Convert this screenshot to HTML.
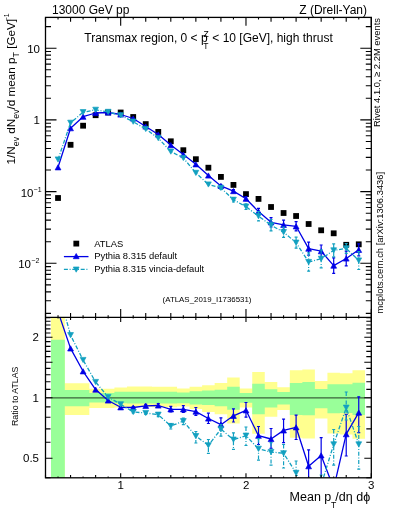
<!DOCTYPE html>
<html><head><meta charset="utf-8"><style>
html,body{margin:0;padding:0;background:#fff;}
svg{display:block;will-change:transform;}
text{font-family:"Liberation Sans",sans-serif;fill:#000;}
</style></head><body>
<svg width="393" height="512" viewBox="0 0 393 512">
<rect width="393" height="512" fill="#fff"/>
<defs><clipPath id="cm"><rect x="45.5" y="17.4" width="325.8" height="300"/></clipPath>
<clipPath id="cr"><rect x="45.5" y="317.4" width="325.8" height="160.4"/></clipPath></defs>
<g clip-path="url(#cr)">
<path d="M51 300L64.8 300L64.8 383.2L89.35 383.2L89.35 388.8L114.41 388.8L114.41 387.5L126.95 387.5L126.95 386.5L152 386.5L152 386.8L177.06 386.8L177.06 388.6L189.59 388.6L189.59 386.8L202.12 386.8L202.12 385.2L214.66 385.2L214.66 382.9L227.19 382.9L227.19 377.6L239.71 377.6L239.71 388.6L252.24 388.6L252.24 371.9L264.77 371.9L264.77 382.1L277.31 382.1L277.31 387.2L289.84 387.2L289.84 370.2L302.37 370.2L302.37 369.6L314.89 369.6L314.89 381.1L327.43 381.1L327.43 372.7L339.95 372.7L339.95 373.3L352.49 373.3L352.49 370.2L365.02 370.2L365.02 438.8L352.49 438.8L352.49 434.5L339.95 434.5L339.95 433.5L327.43 433.5L327.43 418.5L314.89 418.5L314.89 438.5L302.37 438.5L302.37 437.7L289.84 437.7L289.84 410L277.31 410L277.31 416.8L264.77 416.8L264.77 433.8L252.24 433.8L252.24 407.4L239.71 407.4L239.71 423.4L227.19 423.4L227.19 414.2L214.66 414.2L214.66 412L202.12 412L202.12 409L189.59 409L189.59 406.5L177.06 406.5L177.06 407.2L152 407.2L152 407L126.95 407L126.95 407.5L114.41 407.5L114.41 408L89.35 408L89.35 414.9L64.8 414.9L64.8 500L51 500Z" fill="#ffff8f"/>
<path d="M51 339.8L64.8 339.8L64.8 390L89.35 390L89.35 393L114.41 393L114.41 391.8L126.95 391.8L126.95 391.8L152 391.8L152 391.8L177.06 391.8L177.06 392.5L189.59 392.5L189.59 391.3L202.12 391.3L202.12 390.6L214.66 390.6L214.66 389.7L227.19 389.7L227.19 386.8L239.71 386.8L239.71 392.9L252.24 392.9L252.24 383.8L264.77 383.8L264.77 389.2L277.31 389.2L277.31 392L289.84 392L289.84 383L302.37 383L302.37 382.1L314.89 382.1L314.89 389L327.43 389L327.43 384.3L339.95 384.3L339.95 384.3L352.49 384.3L352.49 382.7L365.02 382.7L365.02 415L352.49 415L352.49 413L339.95 413L339.95 413.3L327.43 413.3L327.43 408.2L314.89 408.2L314.89 415.3L302.37 415.3L302.37 415L289.84 415L289.84 404.5L277.31 404.5L277.31 407.5L264.77 407.5L264.77 414.2L252.24 414.2L252.24 402.8L239.71 402.8L239.71 409.7L227.19 409.7L227.19 406.2L214.66 406.2L214.66 405L202.12 405L202.12 404.4L189.59 404.4L189.59 403.3L177.06 403.3L177.06 403.5L152 403.5L152 403.5L126.95 403.5L126.95 403.2L114.41 403.2L114.41 402.5L89.35 402.5L89.35 406.2L64.8 406.2L64.8 500L51 500Z" fill="#99ff99"/>
<line x1="45.5" y1="397.8" x2="371.3" y2="397.8" stroke="#000" stroke-opacity="0.62" stroke-width="1.3"/>
</g>
<g clip-path="url(#cm)">
<rect x="55.13" y="195.1" width="5.8" height="5.8" fill="#000"/>
<rect x="67.66" y="141.9" width="5.8" height="5.8" fill="#000"/>
<rect x="80.19" y="122.8" width="5.8" height="5.8" fill="#000"/>
<rect x="92.72" y="112.3" width="5.8" height="5.8" fill="#000"/>
<rect x="105.25" y="109.6" width="5.8" height="5.8" fill="#000"/>
<rect x="117.78" y="109.6" width="5.8" height="5.8" fill="#000"/>
<rect x="130.31" y="114.1" width="5.8" height="5.8" fill="#000"/>
<rect x="142.84" y="121.2" width="5.8" height="5.8" fill="#000"/>
<rect x="155.37" y="129" width="5.8" height="5.8" fill="#000"/>
<rect x="167.9" y="138.4" width="5.8" height="5.8" fill="#000"/>
<rect x="180.43" y="147.3" width="5.8" height="5.8" fill="#000"/>
<rect x="192.96" y="156.3" width="5.8" height="5.8" fill="#000"/>
<rect x="205.49" y="164.8" width="5.8" height="5.8" fill="#000"/>
<rect x="218.02" y="174" width="5.8" height="5.8" fill="#000"/>
<rect x="230.55" y="182" width="5.8" height="5.8" fill="#000"/>
<rect x="243.08" y="191.2" width="5.8" height="5.8" fill="#000"/>
<rect x="255.61" y="196" width="5.8" height="5.8" fill="#000"/>
<rect x="268.14" y="204.1" width="5.8" height="5.8" fill="#000"/>
<rect x="280.67" y="210.1" width="5.8" height="5.8" fill="#000"/>
<rect x="293.2" y="213.1" width="5.8" height="5.8" fill="#000"/>
<rect x="305.73" y="221.1" width="5.8" height="5.8" fill="#000"/>
<rect x="318.26" y="227.4" width="5.8" height="5.8" fill="#000"/>
<rect x="330.79" y="230.4" width="5.8" height="5.8" fill="#000"/>
<rect x="343.32" y="241.9" width="5.8" height="5.8" fill="#000"/>
<rect x="355.85" y="241.4" width="5.8" height="5.8" fill="#000"/>
<polyline points="58.03,167.3 70.56,128.2 83.09,116.7 95.62,113 108.15,112.5 120.68,114.5 133.21,118.5 145.74,126.5 158.27,134.5 170.8,145.1 183.33,154.6 195.86,164.3 208.39,175.5 220.92,185.9 233.45,191.1 245.98,198.7 258.51,211.6 271.04,222.3 283.57,224.8 296.1,226.3 308.63,248.6 321.16,251.2 333.69,265.6 346.22,258.5 358.75,249.8" fill="none" stroke="#0000e6" stroke-width="1.3" stroke-linejoin="round"/>
<path d="M58.03 164.7L60.93 169.9L55.13 169.9Z" fill="#0000e6" stroke="#0000e6" stroke-width="0.7" stroke-linejoin="round"/>
<path d="M70.56 125.6L73.46 130.8L67.66 130.8Z" fill="#0000e6" stroke="#0000e6" stroke-width="0.7" stroke-linejoin="round"/>
<path d="M83.09 114.1L85.99 119.3L80.19 119.3Z" fill="#0000e6" stroke="#0000e6" stroke-width="0.7" stroke-linejoin="round"/>
<path d="M95.62 110.4L98.52 115.6L92.72 115.6Z" fill="#0000e6" stroke="#0000e6" stroke-width="0.7" stroke-linejoin="round"/>
<path d="M108.15 109.9L111.05 115.1L105.25 115.1Z" fill="#0000e6" stroke="#0000e6" stroke-width="0.7" stroke-linejoin="round"/>
<path d="M120.68 111.9L123.58 117.1L117.78 117.1Z" fill="#0000e6" stroke="#0000e6" stroke-width="0.7" stroke-linejoin="round"/>
<path d="M133.21 115.9L136.11 121.1L130.31 121.1Z" fill="#0000e6" stroke="#0000e6" stroke-width="0.7" stroke-linejoin="round"/>
<path d="M145.74 123.9L148.64 129.1L142.84 129.1Z" fill="#0000e6" stroke="#0000e6" stroke-width="0.7" stroke-linejoin="round"/>
<path d="M158.27 131.9L161.17 137.1L155.37 137.1Z" fill="#0000e6" stroke="#0000e6" stroke-width="0.7" stroke-linejoin="round"/>
<path d="M170.8 142.5L173.7 147.7L167.9 147.7Z" fill="#0000e6" stroke="#0000e6" stroke-width="0.7" stroke-linejoin="round"/>
<path d="M183.33 152L186.23 157.2L180.43 157.2Z" fill="#0000e6" stroke="#0000e6" stroke-width="0.7" stroke-linejoin="round"/>
<path d="M195.86 161.7L198.76 166.9L192.96 166.9Z" fill="#0000e6" stroke="#0000e6" stroke-width="0.7" stroke-linejoin="round"/>
<path d="M208.39 172.9L211.29 178.1L205.49 178.1Z" fill="#0000e6" stroke="#0000e6" stroke-width="0.7" stroke-linejoin="round"/>
<path d="M220.92 184.9V186.9" stroke="#0000e6" stroke-width="1.2" fill="none"/><path d="M219.42 184.9H222.42M219.42 186.9H222.42" stroke="#0000e6" stroke-width="1.2" fill="none"/>
<path d="M220.92 183.3L223.82 188.5L218.02 188.5Z" fill="#0000e6" stroke="#0000e6" stroke-width="0.7" stroke-linejoin="round"/>
<path d="M233.45 189.6V192.6" stroke="#0000e6" stroke-width="1.2" fill="none"/><path d="M231.95 189.6H234.95M231.95 192.6H234.95" stroke="#0000e6" stroke-width="1.2" fill="none"/>
<path d="M233.45 188.5L236.35 193.7L230.55 193.7Z" fill="#0000e6" stroke="#0000e6" stroke-width="0.7" stroke-linejoin="round"/>
<path d="M245.98 196.7V200.7" stroke="#0000e6" stroke-width="1.2" fill="none"/><path d="M244.48 196.7H247.48M244.48 200.7H247.48" stroke="#0000e6" stroke-width="1.2" fill="none"/>
<path d="M245.98 196.1L248.88 201.3L243.08 201.3Z" fill="#0000e6" stroke="#0000e6" stroke-width="0.7" stroke-linejoin="round"/>
<path d="M258.51 208.3V214.9" stroke="#0000e6" stroke-width="1.2" fill="none"/><path d="M257.01 208.3H260.01M257.01 214.9H260.01" stroke="#0000e6" stroke-width="1.2" fill="none"/>
<path d="M258.51 209L261.41 214.2L255.61 214.2Z" fill="#0000e6" stroke="#0000e6" stroke-width="0.7" stroke-linejoin="round"/>
<path d="M271.04 217.6V227" stroke="#0000e6" stroke-width="1.2" fill="none"/><path d="M269.54 217.6H272.54M269.54 227H272.54" stroke="#0000e6" stroke-width="1.2" fill="none"/>
<path d="M271.04 219.7L273.94 224.9L268.14 224.9Z" fill="#0000e6" stroke="#0000e6" stroke-width="0.7" stroke-linejoin="round"/>
<path d="M283.57 220.2V229.4" stroke="#0000e6" stroke-width="1.2" fill="none"/><path d="M282.07 220.2H285.07M282.07 229.4H285.07" stroke="#0000e6" stroke-width="1.2" fill="none"/>
<path d="M283.57 222.2L286.47 227.4L280.67 227.4Z" fill="#0000e6" stroke="#0000e6" stroke-width="0.7" stroke-linejoin="round"/>
<path d="M296.1 221.7V230.9" stroke="#0000e6" stroke-width="1.2" fill="none"/><path d="M294.6 221.7H297.6M294.6 230.9H297.6" stroke="#0000e6" stroke-width="1.2" fill="none"/>
<path d="M296.1 223.7L299 228.9L293.2 228.9Z" fill="#0000e6" stroke="#0000e6" stroke-width="0.7" stroke-linejoin="round"/>
<path d="M308.63 242.1V255.1" stroke="#0000e6" stroke-width="1.2" fill="none"/><path d="M307.13 242.1H310.13M307.13 255.1H310.13" stroke="#0000e6" stroke-width="1.2" fill="none"/>
<path d="M308.63 246L311.53 251.2L305.73 251.2Z" fill="#0000e6" stroke="#0000e6" stroke-width="0.7" stroke-linejoin="round"/>
<path d="M321.16 245V257.4" stroke="#0000e6" stroke-width="1.2" fill="none"/><path d="M319.66 245H322.66M319.66 257.4H322.66" stroke="#0000e6" stroke-width="1.2" fill="none"/>
<path d="M321.16 248.6L324.06 253.8L318.26 253.8Z" fill="#0000e6" stroke="#0000e6" stroke-width="0.7" stroke-linejoin="round"/>
<path d="M333.69 257.8V273.4" stroke="#0000e6" stroke-width="1.2" fill="none"/><path d="M332.19 257.8H335.19M332.19 273.4H335.19" stroke="#0000e6" stroke-width="1.2" fill="none"/>
<path d="M333.69 263L336.59 268.2L330.79 268.2Z" fill="#0000e6" stroke="#0000e6" stroke-width="0.7" stroke-linejoin="round"/>
<path d="M346.22 251.1V265.9" stroke="#0000e6" stroke-width="1.2" fill="none"/><path d="M344.72 251.1H347.72M344.72 265.9H347.72" stroke="#0000e6" stroke-width="1.2" fill="none"/>
<path d="M346.22 255.9L349.12 261.1L343.32 261.1Z" fill="#0000e6" stroke="#0000e6" stroke-width="0.7" stroke-linejoin="round"/>
<path d="M358.75 243.8V255.8" stroke="#0000e6" stroke-width="1.2" fill="none"/><path d="M357.25 243.8H360.25M357.25 255.8H360.25" stroke="#0000e6" stroke-width="1.2" fill="none"/>
<path d="M358.75 247.2L361.65 252.4L355.85 252.4Z" fill="#0000e6" stroke="#0000e6" stroke-width="0.7" stroke-linejoin="round"/>
<polyline points="58.03,159.5 70.56,122.8 83.09,112.2 95.62,109.8 108.15,111.9 120.68,115.3 133.21,121.7 145.74,129 158.27,138.2 170.8,151.6 183.33,158 195.86,172.9 208.39,184.5 220.92,187.9 233.45,199.8 245.98,206.7 258.51,216.2 271.04,225.2 283.57,232.2 296.1,242.7 308.63,262 321.16,258.8 333.69,250.4 346.22,248.4 358.75,260.5" fill="none" stroke="#12a0c0" stroke-width="1.3" stroke-dasharray="4 1.7 1 1.7"/>
<path d="M55.13 156.9L60.93 156.9L58.03 162.1Z" fill="#12a0c0" stroke="#12a0c0" stroke-width="0.7" stroke-linejoin="round"/>
<path d="M67.66 120.2L73.46 120.2L70.56 125.4Z" fill="#12a0c0" stroke="#12a0c0" stroke-width="0.7" stroke-linejoin="round"/>
<path d="M80.19 109.6L85.99 109.6L83.09 114.8Z" fill="#12a0c0" stroke="#12a0c0" stroke-width="0.7" stroke-linejoin="round"/>
<path d="M92.72 107.2L98.52 107.2L95.62 112.4Z" fill="#12a0c0" stroke="#12a0c0" stroke-width="0.7" stroke-linejoin="round"/>
<path d="M105.25 109.3L111.05 109.3L108.15 114.5Z" fill="#12a0c0" stroke="#12a0c0" stroke-width="0.7" stroke-linejoin="round"/>
<path d="M117.78 112.7L123.58 112.7L120.68 117.9Z" fill="#12a0c0" stroke="#12a0c0" stroke-width="0.7" stroke-linejoin="round"/>
<path d="M130.31 119.1L136.11 119.1L133.21 124.3Z" fill="#12a0c0" stroke="#12a0c0" stroke-width="0.7" stroke-linejoin="round"/>
<path d="M142.84 126.4L148.64 126.4L145.74 131.6Z" fill="#12a0c0" stroke="#12a0c0" stroke-width="0.7" stroke-linejoin="round"/>
<path d="M155.37 135.6L161.17 135.6L158.27 140.8Z" fill="#12a0c0" stroke="#12a0c0" stroke-width="0.7" stroke-linejoin="round"/>
<path d="M167.9 149L173.7 149L170.8 154.2Z" fill="#12a0c0" stroke="#12a0c0" stroke-width="0.7" stroke-linejoin="round"/>
<path d="M180.43 155.4L186.23 155.4L183.33 160.6Z" fill="#12a0c0" stroke="#12a0c0" stroke-width="0.7" stroke-linejoin="round"/>
<path d="M192.96 170.3L198.76 170.3L195.86 175.5Z" fill="#12a0c0" stroke="#12a0c0" stroke-width="0.7" stroke-linejoin="round"/>
<path d="M205.49 181.9L211.29 181.9L208.39 187.1Z" fill="#12a0c0" stroke="#12a0c0" stroke-width="0.7" stroke-linejoin="round"/>
<path d="M220.92 186.4V189.4" stroke="#12a0c0" stroke-width="1.2" fill="none" stroke-dasharray="4 1.7 1 1.7"/><path d="M219.42 186.4H222.42M219.42 189.4H222.42" stroke="#12a0c0" stroke-width="1.2" fill="none"/>
<path d="M218.02 185.3L223.82 185.3L220.92 190.5Z" fill="#12a0c0" stroke="#12a0c0" stroke-width="0.7" stroke-linejoin="round"/>
<path d="M233.45 197.6V202" stroke="#12a0c0" stroke-width="1.2" fill="none" stroke-dasharray="4 1.7 1 1.7"/><path d="M231.95 197.6H234.95M231.95 202H234.95" stroke="#12a0c0" stroke-width="1.2" fill="none"/>
<path d="M230.55 197.2L236.35 197.2L233.45 202.4Z" fill="#12a0c0" stroke="#12a0c0" stroke-width="0.7" stroke-linejoin="round"/>
<path d="M245.98 203.9V209.5" stroke="#12a0c0" stroke-width="1.2" fill="none" stroke-dasharray="4 1.7 1 1.7"/><path d="M244.48 203.9H247.48M244.48 209.5H247.48" stroke="#12a0c0" stroke-width="1.2" fill="none"/>
<path d="M243.08 204.1L248.88 204.1L245.98 209.3Z" fill="#12a0c0" stroke="#12a0c0" stroke-width="0.7" stroke-linejoin="round"/>
<path d="M258.51 211.6V220.8" stroke="#12a0c0" stroke-width="1.2" fill="none" stroke-dasharray="4 1.7 1 1.7"/><path d="M257.01 211.6H260.01M257.01 220.8H260.01" stroke="#12a0c0" stroke-width="1.2" fill="none"/>
<path d="M255.61 213.6L261.41 213.6L258.51 218.8Z" fill="#12a0c0" stroke="#12a0c0" stroke-width="0.7" stroke-linejoin="round"/>
<path d="M271.04 219.5V230.9" stroke="#12a0c0" stroke-width="1.2" fill="none" stroke-dasharray="4 1.7 1 1.7"/><path d="M269.54 219.5H272.54M269.54 230.9H272.54" stroke="#12a0c0" stroke-width="1.2" fill="none"/>
<path d="M268.14 222.6L273.94 222.6L271.04 227.8Z" fill="#12a0c0" stroke="#12a0c0" stroke-width="0.7" stroke-linejoin="round"/>
<path d="M283.57 227V237.4" stroke="#12a0c0" stroke-width="1.2" fill="none" stroke-dasharray="4 1.7 1 1.7"/><path d="M282.07 227H285.07M282.07 237.4H285.07" stroke="#12a0c0" stroke-width="1.2" fill="none"/>
<path d="M280.67 229.6L286.47 229.6L283.57 234.8Z" fill="#12a0c0" stroke="#12a0c0" stroke-width="0.7" stroke-linejoin="round"/>
<path d="M296.1 237.2V248.2" stroke="#12a0c0" stroke-width="1.2" fill="none" stroke-dasharray="4 1.7 1 1.7"/><path d="M294.6 237.2H297.6M294.6 248.2H297.6" stroke="#12a0c0" stroke-width="1.2" fill="none"/>
<path d="M293.2 240.1L299 240.1L296.1 245.3Z" fill="#12a0c0" stroke="#12a0c0" stroke-width="0.7" stroke-linejoin="round"/>
<path d="M308.63 252.8V271.2" stroke="#12a0c0" stroke-width="1.2" fill="none" stroke-dasharray="4 1.7 1 1.7"/><path d="M307.13 252.8H310.13M307.13 271.2H310.13" stroke="#12a0c0" stroke-width="1.2" fill="none"/>
<path d="M305.73 259.4L311.53 259.4L308.63 264.6Z" fill="#12a0c0" stroke="#12a0c0" stroke-width="0.7" stroke-linejoin="round"/>
<path d="M321.16 249.8V267.8" stroke="#12a0c0" stroke-width="1.2" fill="none" stroke-dasharray="4 1.7 1 1.7"/><path d="M319.66 249.8H322.66M319.66 267.8H322.66" stroke="#12a0c0" stroke-width="1.2" fill="none"/>
<path d="M318.26 256.2L324.06 256.2L321.16 261.4Z" fill="#12a0c0" stroke="#12a0c0" stroke-width="0.7" stroke-linejoin="round"/>
<path d="M333.69 243.9V256.9" stroke="#12a0c0" stroke-width="1.2" fill="none" stroke-dasharray="4 1.7 1 1.7"/><path d="M332.19 243.9H335.19M332.19 256.9H335.19" stroke="#12a0c0" stroke-width="1.2" fill="none"/>
<path d="M330.79 247.8L336.59 247.8L333.69 253Z" fill="#12a0c0" stroke="#12a0c0" stroke-width="0.7" stroke-linejoin="round"/>
<path d="M346.22 243.5V253.3" stroke="#12a0c0" stroke-width="1.2" fill="none" stroke-dasharray="4 1.7 1 1.7"/><path d="M344.72 243.5H347.72M344.72 253.3H347.72" stroke="#12a0c0" stroke-width="1.2" fill="none"/>
<path d="M343.32 245.8L349.12 245.8L346.22 251Z" fill="#12a0c0" stroke="#12a0c0" stroke-width="0.7" stroke-linejoin="round"/>
<path d="M358.75 251.5V269.5" stroke="#12a0c0" stroke-width="1.2" fill="none" stroke-dasharray="4 1.7 1 1.7"/><path d="M357.25 251.5H360.25M357.25 269.5H360.25" stroke="#12a0c0" stroke-width="1.2" fill="none"/>
<path d="M355.85 257.9L361.65 257.9L358.75 263.1Z" fill="#12a0c0" stroke="#12a0c0" stroke-width="0.7" stroke-linejoin="round"/>
</g>
<g clip-path="url(#cr)">
<polyline points="58.03,311.7 70.56,348.4 83.09,371.3 95.62,389.6 108.15,400.5 120.68,407.3 133.21,407.5 145.74,405.8 158.27,405.5 170.8,409.3 183.33,409.3 195.86,411.6 208.39,418.5 220.92,424.7 233.45,415.8 245.98,410.3 258.51,435.7 271.04,439 283.57,430.4 296.1,427.3 308.63,466.2 321.16,455.4 333.69,488.2 346.22,434.2 358.75,412.6" fill="none" stroke="#0000e6" stroke-width="1.3" stroke-linejoin="round"/>
<path d="M58.03 309.1L60.93 314.3L55.13 314.3Z" fill="#0000e6" stroke="#0000e6" stroke-width="0.7" stroke-linejoin="round"/>
<path d="M70.56 345.8L73.46 351L67.66 351Z" fill="#0000e6" stroke="#0000e6" stroke-width="0.7" stroke-linejoin="round"/>
<path d="M83.09 368.7L85.99 373.9L80.19 373.9Z" fill="#0000e6" stroke="#0000e6" stroke-width="0.7" stroke-linejoin="round"/>
<path d="M95.62 387L98.52 392.2L92.72 392.2Z" fill="#0000e6" stroke="#0000e6" stroke-width="0.7" stroke-linejoin="round"/>
<path d="M108.15 397.9L111.05 403.1L105.25 403.1Z" fill="#0000e6" stroke="#0000e6" stroke-width="0.7" stroke-linejoin="round"/>
<path d="M120.68 404.7L123.58 409.9L117.78 409.9Z" fill="#0000e6" stroke="#0000e6" stroke-width="0.7" stroke-linejoin="round"/>
<path d="M133.21 406.5V408.5" stroke="#0000e6" stroke-width="1.2" fill="none"/><path d="M131.71 406.5H134.71M131.71 408.5H134.71" stroke="#0000e6" stroke-width="1.2" fill="none"/>
<path d="M133.21 404.9L136.11 410.1L130.31 410.1Z" fill="#0000e6" stroke="#0000e6" stroke-width="0.7" stroke-linejoin="round"/>
<path d="M145.74 404.3V407.3" stroke="#0000e6" stroke-width="1.2" fill="none"/><path d="M144.24 404.3H147.24M144.24 407.3H147.24" stroke="#0000e6" stroke-width="1.2" fill="none"/>
<path d="M145.74 403.2L148.64 408.4L142.84 408.4Z" fill="#0000e6" stroke="#0000e6" stroke-width="0.7" stroke-linejoin="round"/>
<path d="M158.27 403.5V407.5" stroke="#0000e6" stroke-width="1.2" fill="none"/><path d="M156.77 403.5H159.77M156.77 407.5H159.77" stroke="#0000e6" stroke-width="1.2" fill="none"/>
<path d="M158.27 402.9L161.17 408.1L155.37 408.1Z" fill="#0000e6" stroke="#0000e6" stroke-width="0.7" stroke-linejoin="round"/>
<path d="M170.8 406.3V412" stroke="#0000e6" stroke-width="1.2" fill="none"/><path d="M169.3 406.3H172.3M169.3 412H172.3" stroke="#0000e6" stroke-width="1.2" fill="none"/>
<path d="M170.8 406.7L173.7 411.9L167.9 411.9Z" fill="#0000e6" stroke="#0000e6" stroke-width="0.7" stroke-linejoin="round"/>
<path d="M183.33 405.6V412.5" stroke="#0000e6" stroke-width="1.2" fill="none"/><path d="M181.83 405.6H184.83M181.83 412.5H184.83" stroke="#0000e6" stroke-width="1.2" fill="none"/>
<path d="M183.33 406.7L186.23 411.9L180.43 411.9Z" fill="#0000e6" stroke="#0000e6" stroke-width="0.7" stroke-linejoin="round"/>
<path d="M195.86 407.5V415.5" stroke="#0000e6" stroke-width="1.2" fill="none"/><path d="M194.36 407.5H197.36M194.36 415.5H197.36" stroke="#0000e6" stroke-width="1.2" fill="none"/>
<path d="M195.86 409L198.76 414.2L192.96 414.2Z" fill="#0000e6" stroke="#0000e6" stroke-width="0.7" stroke-linejoin="round"/>
<path d="M208.39 413.2V423.5" stroke="#0000e6" stroke-width="1.2" fill="none"/><path d="M206.89 413.2H209.89M206.89 423.5H209.89" stroke="#0000e6" stroke-width="1.2" fill="none"/>
<path d="M208.39 415.9L211.29 421.1L205.49 421.1Z" fill="#0000e6" stroke="#0000e6" stroke-width="0.7" stroke-linejoin="round"/>
<path d="M220.92 417.8V429.2" stroke="#0000e6" stroke-width="1.2" fill="none"/><path d="M219.42 417.8H222.42M219.42 429.2H222.42" stroke="#0000e6" stroke-width="1.2" fill="none"/>
<path d="M220.92 422.1L223.82 427.3L218.02 427.3Z" fill="#0000e6" stroke="#0000e6" stroke-width="0.7" stroke-linejoin="round"/>
<path d="M233.45 408.9V422" stroke="#0000e6" stroke-width="1.2" fill="none"/><path d="M231.95 408.9H234.95M231.95 422H234.95" stroke="#0000e6" stroke-width="1.2" fill="none"/>
<path d="M233.45 413.2L236.35 418.4L230.55 418.4Z" fill="#0000e6" stroke="#0000e6" stroke-width="0.7" stroke-linejoin="round"/>
<path d="M245.98 402.5V417.2" stroke="#0000e6" stroke-width="1.2" fill="none"/><path d="M244.48 402.5H247.48M244.48 417.2H247.48" stroke="#0000e6" stroke-width="1.2" fill="none"/>
<path d="M245.98 407.7L248.88 412.9L243.08 412.9Z" fill="#0000e6" stroke="#0000e6" stroke-width="0.7" stroke-linejoin="round"/>
<path d="M258.51 426.5V444.5" stroke="#0000e6" stroke-width="1.2" fill="none"/><path d="M257.01 426.5H260.01M257.01 444.5H260.01" stroke="#0000e6" stroke-width="1.2" fill="none"/>
<path d="M258.51 433.1L261.41 438.3L255.61 438.3Z" fill="#0000e6" stroke="#0000e6" stroke-width="0.7" stroke-linejoin="round"/>
<path d="M271.04 428.5V448.4" stroke="#0000e6" stroke-width="1.2" fill="none"/><path d="M269.54 428.5H272.54M269.54 448.4H272.54" stroke="#0000e6" stroke-width="1.2" fill="none"/>
<path d="M271.04 436.4L273.94 441.6L268.14 441.6Z" fill="#0000e6" stroke="#0000e6" stroke-width="0.7" stroke-linejoin="round"/>
<path d="M283.57 419.1V442.6" stroke="#0000e6" stroke-width="1.2" fill="none"/><path d="M282.07 419.1H285.07M282.07 442.6H285.07" stroke="#0000e6" stroke-width="1.2" fill="none"/>
<path d="M283.57 427.8L286.47 433L280.67 433Z" fill="#0000e6" stroke="#0000e6" stroke-width="0.7" stroke-linejoin="round"/>
<path d="M296.1 415.1V439.5" stroke="#0000e6" stroke-width="1.2" fill="none"/><path d="M294.6 415.1H297.6M294.6 439.5H297.6" stroke="#0000e6" stroke-width="1.2" fill="none"/>
<path d="M296.1 424.7L299 429.9L293.2 429.9Z" fill="#0000e6" stroke="#0000e6" stroke-width="0.7" stroke-linejoin="round"/>
<path d="M308.63 449.9V491.2" stroke="#0000e6" stroke-width="1.2" fill="none"/><path d="M307.13 449.9H310.13M307.13 491.2H310.13" stroke="#0000e6" stroke-width="1.2" fill="none"/>
<path d="M308.63 463.6L311.53 468.8L305.73 468.8Z" fill="#0000e6" stroke="#0000e6" stroke-width="0.7" stroke-linejoin="round"/>
<path d="M321.16 437.7V480.4" stroke="#0000e6" stroke-width="1.2" fill="none"/><path d="M319.66 437.7H322.66M319.66 480.4H322.66" stroke="#0000e6" stroke-width="1.2" fill="none"/>
<path d="M321.16 452.8L324.06 458L318.26 458Z" fill="#0000e6" stroke="#0000e6" stroke-width="0.7" stroke-linejoin="round"/>
<path d="M333.69 480.2V513.2" stroke="#0000e6" stroke-width="1.2" fill="none"/><path d="M332.19 480.2H335.19M332.19 513.2H335.19" stroke="#0000e6" stroke-width="1.2" fill="none"/>
<path d="M333.69 485.6L336.59 490.8L330.79 490.8Z" fill="#0000e6" stroke="#0000e6" stroke-width="0.7" stroke-linejoin="round"/>
<path d="M346.22 414.3V456" stroke="#0000e6" stroke-width="1.2" fill="none"/><path d="M344.72 414.3H347.72M344.72 456H347.72" stroke="#0000e6" stroke-width="1.2" fill="none"/>
<path d="M346.22 431.6L349.12 436.8L343.32 436.8Z" fill="#0000e6" stroke="#0000e6" stroke-width="0.7" stroke-linejoin="round"/>
<path d="M358.75 396.8V432.6" stroke="#0000e6" stroke-width="1.2" fill="none"/><path d="M357.25 396.8H360.25M357.25 432.6H360.25" stroke="#0000e6" stroke-width="1.2" fill="none"/>
<path d="M358.75 410L361.65 415.2L355.85 415.2Z" fill="#0000e6" stroke="#0000e6" stroke-width="0.7" stroke-linejoin="round"/>
<polyline points="58.03,289.8 70.56,335.2 83.09,360 95.62,382 108.15,397 120.68,404.3 133.21,412 145.74,413 158.27,414.7 170.8,426 183.33,421.2 195.86,436.1 208.39,445.3 220.92,429.2 233.45,439.6 245.98,435.7 258.51,448.8 271.04,452 283.57,453.3 296.1,472.9 308.63,503.7 321.16,485 333.69,444.4 346.22,407.7 358.75,444.4" fill="none" stroke="#12a0c0" stroke-width="1.3" stroke-dasharray="4 1.7 1 1.7"/>
<path d="M55.13 287.2L60.93 287.2L58.03 292.4Z" fill="#12a0c0" stroke="#12a0c0" stroke-width="0.7" stroke-linejoin="round"/>
<path d="M67.66 332.6L73.46 332.6L70.56 337.8Z" fill="#12a0c0" stroke="#12a0c0" stroke-width="0.7" stroke-linejoin="round"/>
<path d="M80.19 357.4L85.99 357.4L83.09 362.6Z" fill="#12a0c0" stroke="#12a0c0" stroke-width="0.7" stroke-linejoin="round"/>
<path d="M92.72 379.4L98.52 379.4L95.62 384.6Z" fill="#12a0c0" stroke="#12a0c0" stroke-width="0.7" stroke-linejoin="round"/>
<path d="M105.25 394.4L111.05 394.4L108.15 399.6Z" fill="#12a0c0" stroke="#12a0c0" stroke-width="0.7" stroke-linejoin="round"/>
<path d="M117.78 401.7L123.58 401.7L120.68 406.9Z" fill="#12a0c0" stroke="#12a0c0" stroke-width="0.7" stroke-linejoin="round"/>
<path d="M133.21 411V413" stroke="#12a0c0" stroke-width="1.2" fill="none" stroke-dasharray="4 1.7 1 1.7"/><path d="M131.71 411H134.71M131.71 413H134.71" stroke="#12a0c0" stroke-width="1.2" fill="none"/>
<path d="M130.31 409.4L136.11 409.4L133.21 414.6Z" fill="#12a0c0" stroke="#12a0c0" stroke-width="0.7" stroke-linejoin="round"/>
<path d="M145.74 411.5V414.5" stroke="#12a0c0" stroke-width="1.2" fill="none" stroke-dasharray="4 1.7 1 1.7"/><path d="M144.24 411.5H147.24M144.24 414.5H147.24" stroke="#12a0c0" stroke-width="1.2" fill="none"/>
<path d="M142.84 410.4L148.64 410.4L145.74 415.6Z" fill="#12a0c0" stroke="#12a0c0" stroke-width="0.7" stroke-linejoin="round"/>
<path d="M158.27 412.7V416.7" stroke="#12a0c0" stroke-width="1.2" fill="none" stroke-dasharray="4 1.7 1 1.7"/><path d="M156.77 412.7H159.77M156.77 416.7H159.77" stroke="#12a0c0" stroke-width="1.2" fill="none"/>
<path d="M155.37 412.1L161.17 412.1L158.27 417.3Z" fill="#12a0c0" stroke="#12a0c0" stroke-width="0.7" stroke-linejoin="round"/>
<path d="M170.8 423.5V429" stroke="#12a0c0" stroke-width="1.2" fill="none" stroke-dasharray="4 1.7 1 1.7"/><path d="M169.3 423.5H172.3M169.3 429H172.3" stroke="#12a0c0" stroke-width="1.2" fill="none"/>
<path d="M167.9 423.4L173.7 423.4L170.8 428.6Z" fill="#12a0c0" stroke="#12a0c0" stroke-width="0.7" stroke-linejoin="round"/>
<path d="M183.33 418.2V424.7" stroke="#12a0c0" stroke-width="1.2" fill="none" stroke-dasharray="4 1.7 1 1.7"/><path d="M181.83 418.2H184.83M181.83 424.7H184.83" stroke="#12a0c0" stroke-width="1.2" fill="none"/>
<path d="M180.43 418.6L186.23 418.6L183.33 423.8Z" fill="#12a0c0" stroke="#12a0c0" stroke-width="0.7" stroke-linejoin="round"/>
<path d="M195.86 431.5V443" stroke="#12a0c0" stroke-width="1.2" fill="none" stroke-dasharray="4 1.7 1 1.7"/><path d="M194.36 431.5H197.36M194.36 443H197.36" stroke="#12a0c0" stroke-width="1.2" fill="none"/>
<path d="M192.96 433.5L198.76 433.5L195.86 438.7Z" fill="#12a0c0" stroke="#12a0c0" stroke-width="0.7" stroke-linejoin="round"/>
<path d="M208.39 439.5V453.3" stroke="#12a0c0" stroke-width="1.2" fill="none" stroke-dasharray="4 1.7 1 1.7"/><path d="M206.89 439.5H209.89M206.89 453.3H209.89" stroke="#12a0c0" stroke-width="1.2" fill="none"/>
<path d="M205.49 442.7L211.29 442.7L208.39 447.9Z" fill="#12a0c0" stroke="#12a0c0" stroke-width="0.7" stroke-linejoin="round"/>
<path d="M220.92 424.7V436.1" stroke="#12a0c0" stroke-width="1.2" fill="none" stroke-dasharray="4 1.7 1 1.7"/><path d="M219.42 424.7H222.42M219.42 436.1H222.42" stroke="#12a0c0" stroke-width="1.2" fill="none"/>
<path d="M218.02 426.6L223.82 426.6L220.92 431.8Z" fill="#12a0c0" stroke="#12a0c0" stroke-width="0.7" stroke-linejoin="round"/>
<path d="M233.45 432.8V449.4" stroke="#12a0c0" stroke-width="1.2" fill="none" stroke-dasharray="4 1.7 1 1.7"/><path d="M231.95 432.8H234.95M231.95 449.4H234.95" stroke="#12a0c0" stroke-width="1.2" fill="none"/>
<path d="M230.55 437L236.35 437L233.45 442.2Z" fill="#12a0c0" stroke="#12a0c0" stroke-width="0.7" stroke-linejoin="round"/>
<path d="M245.98 427V445.5" stroke="#12a0c0" stroke-width="1.2" fill="none" stroke-dasharray="4 1.7 1 1.7"/><path d="M244.48 427H247.48M244.48 445.5H247.48" stroke="#12a0c0" stroke-width="1.2" fill="none"/>
<path d="M243.08 433.1L248.88 433.1L245.98 438.3Z" fill="#12a0c0" stroke="#12a0c0" stroke-width="0.7" stroke-linejoin="round"/>
<path d="M258.51 438.7V460.2" stroke="#12a0c0" stroke-width="1.2" fill="none" stroke-dasharray="4 1.7 1 1.7"/><path d="M257.01 438.7H260.01M257.01 460.2H260.01" stroke="#12a0c0" stroke-width="1.2" fill="none"/>
<path d="M255.61 446.2L261.41 446.2L258.51 451.4Z" fill="#12a0c0" stroke="#12a0c0" stroke-width="0.7" stroke-linejoin="round"/>
<path d="M271.04 442.6V465.1" stroke="#12a0c0" stroke-width="1.2" fill="none" stroke-dasharray="4 1.7 1 1.7"/><path d="M269.54 442.6H272.54M269.54 465.1H272.54" stroke="#12a0c0" stroke-width="1.2" fill="none"/>
<path d="M268.14 449.4L273.94 449.4L271.04 454.6Z" fill="#12a0c0" stroke="#12a0c0" stroke-width="0.7" stroke-linejoin="round"/>
<path d="M283.57 444.5V468" stroke="#12a0c0" stroke-width="1.2" fill="none" stroke-dasharray="4 1.7 1 1.7"/><path d="M282.07 444.5H285.07M282.07 468H285.07" stroke="#12a0c0" stroke-width="1.2" fill="none"/>
<path d="M280.67 450.7L286.47 450.7L283.57 455.9Z" fill="#12a0c0" stroke="#12a0c0" stroke-width="0.7" stroke-linejoin="round"/>
<path d="M296.1 461V486.9" stroke="#12a0c0" stroke-width="1.2" fill="none" stroke-dasharray="4 1.7 1 1.7"/><path d="M294.6 461H297.6M294.6 486.9H297.6" stroke="#12a0c0" stroke-width="1.2" fill="none"/>
<path d="M293.2 470.3L299 470.3L296.1 475.5Z" fill="#12a0c0" stroke="#12a0c0" stroke-width="0.7" stroke-linejoin="round"/>
<path d="M308.63 489.7V523.7" stroke="#12a0c0" stroke-width="1.2" fill="none" stroke-dasharray="4 1.7 1 1.7"/><path d="M307.13 489.7H310.13M307.13 523.7H310.13" stroke="#12a0c0" stroke-width="1.2" fill="none"/>
<path d="M305.73 501.1L311.53 501.1L308.63 506.3Z" fill="#12a0c0" stroke="#12a0c0" stroke-width="0.7" stroke-linejoin="round"/>
<path d="M321.16 475V500" stroke="#12a0c0" stroke-width="1.2" fill="none" stroke-dasharray="4 1.7 1 1.7"/><path d="M319.66 475H322.66M319.66 500H322.66" stroke="#12a0c0" stroke-width="1.2" fill="none"/>
<path d="M318.26 482.4L324.06 482.4L321.16 487.6Z" fill="#12a0c0" stroke="#12a0c0" stroke-width="0.7" stroke-linejoin="round"/>
<path d="M333.69 429.5V465.1" stroke="#12a0c0" stroke-width="1.2" fill="none" stroke-dasharray="4 1.7 1 1.7"/><path d="M332.19 429.5H335.19M332.19 465.1H335.19" stroke="#12a0c0" stroke-width="1.2" fill="none"/>
<path d="M330.79 441.8L336.59 441.8L333.69 447Z" fill="#12a0c0" stroke="#12a0c0" stroke-width="0.7" stroke-linejoin="round"/>
<path d="M346.22 392V420" stroke="#12a0c0" stroke-width="1.2" fill="none" stroke-dasharray="4 1.7 1 1.7"/><path d="M344.72 392H347.72M344.72 420H347.72" stroke="#12a0c0" stroke-width="1.2" fill="none"/>
<path d="M343.32 405.1L349.12 405.1L346.22 410.3Z" fill="#12a0c0" stroke="#12a0c0" stroke-width="0.7" stroke-linejoin="round"/>
<path d="M358.75 426.5V469.2" stroke="#12a0c0" stroke-width="1.2" fill="none" stroke-dasharray="4 1.7 1 1.7"/><path d="M357.25 426.5H360.25M357.25 469.2H360.25" stroke="#12a0c0" stroke-width="1.2" fill="none"/>
<path d="M355.85 441.8L361.65 441.8L358.75 447Z" fill="#12a0c0" stroke="#12a0c0" stroke-width="0.7" stroke-linejoin="round"/>
</g>
<path d="M45.5 17.4V21.7M45.5 317.4V313.1M45.5 317.4V320.1M45.5 477.8V475.1M58.03 17.4V19.6M58.03 317.4V315.2M58.03 317.4V318.6M58.03 477.8V476.6M70.56 17.4V21.7M70.56 317.4V313.1M70.56 317.4V320.1M70.56 477.8V475.1M83.09 17.4V19.6M83.09 317.4V315.2M83.09 317.4V318.6M83.09 477.8V476.6M95.62 17.4V21.7M95.62 317.4V313.1M95.62 317.4V320.1M95.62 477.8V475.1M108.15 17.4V19.6M108.15 317.4V315.2M108.15 317.4V318.6M108.15 477.8V476.6M120.68 17.4V25.7M120.68 317.4V309.1M120.68 317.4V322M120.68 477.8V473.2M133.21 17.4V19.6M133.21 317.4V315.2M133.21 317.4V318.6M133.21 477.8V476.6M145.74 17.4V21.7M145.74 317.4V313.1M145.74 317.4V320.1M145.74 477.8V475.1M158.27 17.4V19.6M158.27 317.4V315.2M158.27 317.4V318.6M158.27 477.8V476.6M170.8 17.4V21.7M170.8 317.4V313.1M170.8 317.4V320.1M170.8 477.8V475.1M183.33 17.4V19.6M183.33 317.4V315.2M183.33 317.4V318.6M183.33 477.8V476.6M195.86 17.4V21.7M195.86 317.4V313.1M195.86 317.4V320.1M195.86 477.8V475.1M208.39 17.4V19.6M208.39 317.4V315.2M208.39 317.4V318.6M208.39 477.8V476.6M220.92 17.4V21.7M220.92 317.4V313.1M220.92 317.4V320.1M220.92 477.8V475.1M233.45 17.4V19.6M233.45 317.4V315.2M233.45 317.4V318.6M233.45 477.8V476.6M245.98 17.4V25.7M245.98 317.4V309.1M245.98 317.4V322M245.98 477.8V473.2M258.51 17.4V19.6M258.51 317.4V315.2M258.51 317.4V318.6M258.51 477.8V476.6M271.04 17.4V21.7M271.04 317.4V313.1M271.04 317.4V320.1M271.04 477.8V475.1M283.57 17.4V19.6M283.57 317.4V315.2M283.57 317.4V318.6M283.57 477.8V476.6M296.1 17.4V21.7M296.1 317.4V313.1M296.1 317.4V320.1M296.1 477.8V475.1M308.63 17.4V19.6M308.63 317.4V315.2M308.63 317.4V318.6M308.63 477.8V476.6M321.16 17.4V21.7M321.16 317.4V313.1M321.16 317.4V320.1M321.16 477.8V475.1M333.69 17.4V19.6M333.69 317.4V315.2M333.69 317.4V318.6M333.69 477.8V476.6M346.22 17.4V21.7M346.22 317.4V313.1M346.22 317.4V320.1M346.22 477.8V475.1M358.75 17.4V19.6M358.75 317.4V315.2M358.75 317.4V318.6M358.75 477.8V476.6M371.28 17.4V25.7M371.28 317.4V309.1M371.28 317.4V322M371.28 477.8V473.2M45.5 313.42H51M371.3 313.42H365.8M45.5 300.79H51M371.3 300.79H365.8M45.5 291.83H51M371.3 291.83H365.8M45.5 284.88H51M371.3 284.88H365.8M45.5 279.21H51M371.3 279.21H365.8M45.5 274.41H51M371.3 274.41H365.8M45.5 270.25H51M371.3 270.25H365.8M45.5 266.58H51M371.3 266.58H365.8M45.5 263.3H56.5M371.3 263.3H360.3M45.5 241.72H51M371.3 241.72H365.8M45.5 229.09H51M371.3 229.09H365.8M45.5 220.13H51M371.3 220.13H365.8M45.5 213.18H51M371.3 213.18H365.8M45.5 207.51H51M371.3 207.51H365.8M45.5 202.71H51M371.3 202.71H365.8M45.5 198.55H51M371.3 198.55H365.8M45.5 194.88H51M371.3 194.88H365.8M45.5 191.6H56.5M371.3 191.6H360.3M45.5 170.02H51M371.3 170.02H365.8M45.5 157.39H51M371.3 157.39H365.8M45.5 148.43H51M371.3 148.43H365.8M45.5 141.48H51M371.3 141.48H365.8M45.5 135.81H51M371.3 135.81H365.8M45.5 131.01H51M371.3 131.01H365.8M45.5 126.85H51M371.3 126.85H365.8M45.5 123.18H51M371.3 123.18H365.8M45.5 119.9H56.5M371.3 119.9H360.3M45.5 98.32H51M371.3 98.32H365.8M45.5 85.69H51M371.3 85.69H365.8M45.5 76.73H51M371.3 76.73H365.8M45.5 69.78H51M371.3 69.78H365.8M45.5 64.11H51M371.3 64.11H365.8M45.5 59.31H51M371.3 59.31H365.8M45.5 55.15H51M371.3 55.15H365.8M45.5 51.48H51M371.3 51.48H365.8M45.5 48.2H56.5M371.3 48.2H360.3M45.5 26.62H51M371.3 26.62H365.8M45.5 477.69H50.5M371.3 477.69H366.3M45.5 458.21H52.5M371.3 458.21H364.3M45.5 442.29H50.5M371.3 442.29H366.3M45.5 428.84H50.5M371.3 428.84H366.3M45.5 417.18H50.5M371.3 417.18H366.3M45.5 406.9H50.5M371.3 406.9H366.3M45.5 397.7H52.5M371.3 397.7H364.3M45.5 389.38H50.5M371.3 389.38H366.3M45.5 381.78H50.5M371.3 381.78H366.3M45.5 374.8H50.5M371.3 374.8H366.3M45.5 368.33H50.5M371.3 368.33H366.3M45.5 362.31H52.5M371.3 362.31H364.3M45.5 356.67H50.5M371.3 356.67H366.3M45.5 351.38H50.5M371.3 351.38H366.3M45.5 346.39H50.5M371.3 346.39H366.3M45.5 341.67H50.5M371.3 341.67H366.3M45.5 337.19H52.5M371.3 337.19H364.3M45.5 332.93H50.5M371.3 332.93H366.3M45.5 328.87H50.5M371.3 328.87H366.3M45.5 324.99H50.5M371.3 324.99H366.3M45.5 321.28H50.5M371.3 321.28H366.3M45.5 317.71H50.5M371.3 317.71H366.3" stroke="#000" stroke-width="1.1" fill="none"/>
<rect x="45.5" y="17.4" width="325.8" height="460.4" fill="none" stroke="#000" stroke-width="1.3"/>
<line x1="45.5" y1="317.4" x2="371.3" y2="317.4" stroke="#000" stroke-width="1.3"/>
<rect x="73.4" y="240.7" width="5.8" height="5.8" fill="#000"/>
<line x1="63.9" y1="256.6" x2="88.5" y2="256.6" stroke="#0000e6" stroke-width="1.3"/>
<path d="M76.2 253.5L79.1 258.7L73.3 258.7Z" fill="#0000e6" stroke="#0000e6" stroke-width="0.7" stroke-linejoin="round"/>
<line x1="63.9" y1="269.4" x2="88.5" y2="269.4" stroke="#12a0c0" stroke-width="1.3" stroke-dasharray="4 1.7 1 1.7"/>
<path d="M73.3 267L79.1 267L76.2 272.2Z" fill="#12a0c0" stroke="#12a0c0" stroke-width="0.7" stroke-linejoin="round"/>

<text x="52" y="14" font-size="12">13000 GeV pp</text>
<text x="367" y="14" font-size="12" text-anchor="end">Z (Drell-Yan)</text>
<text x="84.3" y="42.2" font-size="12">Transmax region, 0 &lt; p<tspan font-size="8.5" dy="-5.2" dx="-4">Z</tspan><tspan font-size="8.5" dy="12" dx="-5.5">T</tspan><tspan dy="-6.8" dx="0.5"> &lt; 10 [GeV], high thrust</tspan></text>
<text x="94.2" y="246.6" font-size="9.4">ATLAS</text>
<text x="94.2" y="258.9" font-size="9.4">Pythia 8.315 default</text>
<text x="94.2" y="271.5" font-size="9.4">Pythia 8.315 vincia-default</text>
<text x="162.6" y="302.4" font-size="7.9" fill="#aeaeae">(ATLAS_2019_I1736531)</text>
<text x="40" y="52.7" font-size="11.5" text-anchor="end">10</text>
<text x="40" y="123.9" font-size="11.5" text-anchor="end">1</text>
<text x="33.5" y="196.8" font-size="11.5" text-anchor="end">10</text><text x="33.6" y="191.7" font-size="7">&#8722;1</text>
<text x="31" y="268.1" font-size="11.5" text-anchor="end">10</text><text x="31.3" y="262.9" font-size="7">&#8722;2</text>
<text x="39" y="341" font-size="11.5" text-anchor="end">2</text>
<text x="39" y="401.8" font-size="11.5" text-anchor="end">1</text>
<text x="39" y="461.9" font-size="11.5" text-anchor="end">0.5</text>
<text x="120.8" y="488.7" font-size="11.5" text-anchor="middle">1</text>
<text x="246.1" y="488.7" font-size="11.5" text-anchor="middle">2</text>
<text x="371.3" y="489.2" font-size="11.5" text-anchor="middle">3</text>
<text x="289.6" y="500.8" font-size="12.5">Mean p<tspan font-size="8.6" dy="7.6" dx="-0.2">T</tspan><tspan dy="-7.6" dx="-1">/d&#951; d&#981;</tspan></text>
<text transform="translate(14.9,164.4) rotate(-90)" font-size="11.7">1/N<tspan font-size="8.8" dy="4">ev</tspan><tspan dy="-4"> dN</tspan><tspan font-size="8.8" dy="4">ev</tspan><tspan dy="-4">/d mean p</tspan><tspan font-size="8.8" dy="4">T</tspan><tspan dy="-4"> [GeV]</tspan><tspan font-size="7" dy="-6" dx="-2.5">&#8722;1</tspan></text>
<text transform="translate(18.1,426) rotate(-90)" font-size="8.8">Ratio to ATLAS</text>
<text transform="translate(380.2,126.9) rotate(-90)" font-size="9.4" fill="#a3a3a3">Rivet 4.1.0, &#8805; 2.2M events</text>
<text transform="translate(382.5,313.6) rotate(-90)" font-size="9.4" fill="#a3a3a3">mcplots.cern.ch [arXiv:1306.3436]</text>

</svg></body></html>
